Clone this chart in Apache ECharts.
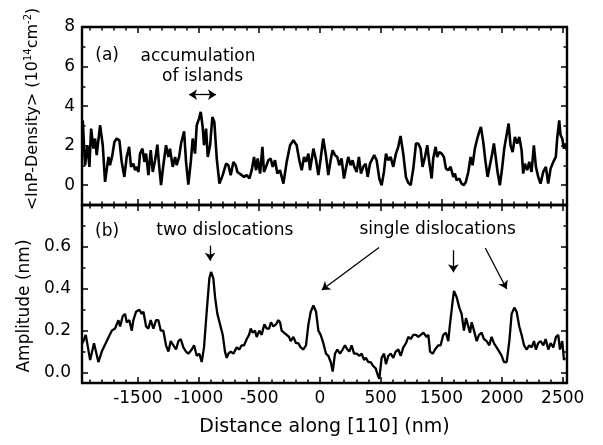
<!DOCTYPE html>
<html><head><meta charset="utf-8">
<script src="https://cdn.jsdelivr.net/npm/echarts@6/dist/echarts.min.js"></script>
<style>html,body{margin:0;padding:0;background:#fff}#c{width:603px;height:445px}</style>
</head><body><div id="c"></div>
<script>
// ---- data (distance in nm, density in 1e14 cm^-2, amplitude in nm) ----
const densityData = [
[-1954,3.28],[-1935,1.01],[-1915,2.02],[-1899,0.93],[-1885,2.86],[-1866,1.85],[-1852,2.36],[-1839,1.52],[-1811,3.03],[-1789,2.02],
[-1770,0.17],[-1742,1.43],[-1729,1.01],[-1710,1.52],[-1693,2.19],[-1674,2.36],[-1652,2.27],[-1633,1.18],[-1611,0.42],[-1592,1.43],
[-1572,1.94],[-1556,0.93],[-1537,1.09],[-1523,0.76],[-1509,0.93],[-1495,0.67],[-1482,1.60],[-1462,1.85],[-1446,1.18],[-1432,1.60],
[-1413,0.51],[-1394,1.77],[-1377,0.67],[-1358,1.26],[-1339,2.05],[-1325,1.01],[-1309,0.00],[-1290,1.01],[-1268,2.02],[-1248,1.43],
[-1235,1.85],[-1213,0.93],[-1193,1.43],[-1180,1.01],[-1160,1.43],[-1144,2.11],[-1119,2.73],[-1103,1.18],[-1084,0.03],[-1064,1.18],
[-1048,2.36],[-1029,1.60],[-1015,3.03],[-996,3.37],[-982,3.71],[-966,2.95],[-955,2.02],[-938,2.86],[-924,1.43],[-905,2.02],
[-886,3.45],[-870,3.20],[-850,1.35],[-828,0.08],[-801,0.51],[-773,1.09],[-754,1.01],[-735,0.51],[-713,1.18],[-694,1.01],
[-680,0.67],[-664,0.59],[-645,0.51],[-625,0.42],[-603,0.51],[-581,0.34],[-562,0.76],[-543,1.43],[-526,0.76],[-513,1.35],
[-493,0.59],[-474,1.94],[-461,0.67],[-444,0.93],[-425,1.26],[-406,1.35],[-389,0.93],[-370,1.26],[-351,0.59],[-329,0.76],
[-301,0.08],[-274,1.18],[-246,2.02],[-219,2.27],[-192,2.02],[-170,1.26],[-150,0.76],[-131,1.43],[-115,1.18],[-95,1.60],
[-82,0.76],[-54,1.85],[-32,1.26],[-13,0.51],[6,1.35],[27,2.36],[49,1.52],[69,0.51],[88,1.26],[104,1.77],
[124,1.52],[143,1.43],[159,1.01],[178,1.35],[198,0.34],[214,0.84],[233,1.43],[253,1.01],[269,1.26],[283,0.93],
[302,0.67],[321,1.43],[338,0.59],[357,0.93],[376,1.09],[393,0.42],[412,1.09],[425,1.18],[447,1.52],[467,1.26],
[489,0.34],[508,0.00],[527,0.67],[544,1.60],[563,1.26],[582,1.43],[604,0.93],[626,1.60],[645,1.94],[664,2.49],
[686,1.60],[708,0.42],[727,0.13],[747,0.00],[769,0.84],[791,2.11],[810,2.11],[829,1.85],[845,0.93],[865,1.43],
[884,2.02],[900,1.18],[920,0.34],[933,1.35],[953,1.94],[966,1.43],[983,1.68],[1002,1.60],[1021,1.43],[1038,0.84],
[1057,0.76],[1076,0.93],[1098,0.42],[1112,0.59],[1125,0.25],[1147,0.34],[1167,0.08],[1186,0.00],[1202,0.17],[1222,0.67],
[1241,1.43],[1257,1.01],[1276,1.85],[1296,2.36],[1312,2.70],[1326,2.95],[1345,2.19],[1364,1.18],[1381,0.42],[1400,1.01],
[1419,1.60],[1433,2.11],[1449,1.35],[1463,0.67],[1482,0.00],[1502,0.93],[1518,1.85],[1537,2.53],[1554,3.12],[1570,2.02],
[1587,1.68],[1606,2.44],[1625,2.11],[1642,2.44],[1661,1.77],[1674,0.59],[1688,1.09],[1707,0.76],[1724,1.18],[1743,0.67],
[1762,2.02],[1779,0.93],[1798,0.42],[1817,0.08],[1839,0.67],[1861,0.93],[1880,0.08],[1900,0.84],[1922,1.18],[1943,1.43],
[1954,2.36],[1971,3.28],[1982,2.53],[1996,2.36],[2009,1.85],[2026,2.11],[2034,1.77]
];
const amplitudeData = [
[-1958,0.14],[-1948,0.15],[-1929,0.18],[-1893,0.06],[-1861,0.14],[-1825,0.05],[-1797,0.10],[-1756,0.15],[-1715,0.20],[-1688,0.21],
[-1660,0.25],[-1646,0.22],[-1624,0.27],[-1605,0.28],[-1592,0.24],[-1570,0.25],[-1550,0.20],[-1537,0.25],[-1515,0.29],[-1487,0.30],
[-1468,0.28],[-1454,0.29],[-1432,0.22],[-1413,0.21],[-1394,0.25],[-1372,0.21],[-1350,0.25],[-1331,0.25],[-1311,0.20],[-1290,0.20],
[-1268,0.13],[-1248,0.10],[-1229,0.15],[-1207,0.13],[-1185,0.11],[-1166,0.15],[-1147,0.16],[-1125,0.12],[-1103,0.10],[-1084,0.09],
[-1056,0.11],[-1037,0.13],[-1015,0.08],[-993,0.09],[-974,0.05],[-955,0.12],[-933,0.29],[-911,0.45],[-897,0.48],[-878,0.45],
[-864,0.36],[-845,0.28],[-823,0.23],[-801,0.18],[-782,0.10],[-768,0.07],[-754,0.09],[-735,0.10],[-713,0.09],[-686,0.12],
[-664,0.11],[-645,0.13],[-625,0.13],[-603,0.16],[-584,0.18],[-570,0.21],[-554,0.19],[-535,0.20],[-521,0.17],[-499,0.20],
[-480,0.18],[-458,0.23],[-439,0.21],[-419,0.21],[-403,0.24],[-384,0.22],[-362,0.23],[-343,0.25],[-329,0.24],[-315,0.20],
[-296,0.19],[-274,0.18],[-255,0.17],[-241,0.15],[-219,0.17],[-197,0.14],[-178,0.14],[-159,0.12],[-137,0.11],[-115,0.13],
[-95,0.23],[-76,0.29],[-54,0.32],[-32,0.29],[-13,0.20],[6,0.18],[28,0.14],[50,0.09],[69,0.08],[89,0.05],
[105,0.005],[124,0.09],[143,0.11],[165,0.09],[187,0.11],[206,0.13],[226,0.11],[242,0.10],[261,0.13],[281,0.09],
[303,0.09],[325,0.08],[344,0.09],[363,0.06],[379,0.07],[399,0.05],[418,0.05],[440,0.03],[459,0.02],[475,-0.01],
[489,-0.03],[508,0.07],[528,0.09],[544,0.04],[563,0.08],[583,0.09],[604,0.07],[624,0.10],[646,0.11],[665,0.08],
[687,0.12],[709,0.14],[728,0.17],[747,0.16],[769,0.18],[791,0.18],[810,0.17],[830,0.18],[852,0.19],[879,0.17],
[893,0.18],[907,0.10],[929,0.09],[948,0.11],[975,0.13],[994,0.13],[1016,0.18],[1038,0.19],[1057,0.15],[1071,0.23],
[1093,0.34],[1104,0.39],[1126,0.36],[1148,0.31],[1167,0.28],[1186,0.20],[1203,0.26],[1222,0.22],[1236,0.19],[1250,0.24],
[1269,0.20],[1291,0.15],[1310,0.18],[1332,0.19],[1351,0.16],[1373,0.15],[1395,0.13],[1414,0.17],[1433,0.14],[1455,0.12],
[1477,0.10],[1497,0.08],[1516,0.05],[1538,0.05],[1560,0.15],[1579,0.28],[1601,0.31],[1620,0.29],[1642,0.22],[1661,0.18],
[1681,0.13],[1702,0.11],[1725,0.13],[1744,0.12],[1763,0.15],[1779,0.11],[1798,0.14],[1818,0.15],[1840,0.13],[1859,0.16],
[1881,0.11],[1900,0.14],[1922,0.12],[1944,0.17],[1963,0.18],[1977,0.11],[1996,0.15],[2010,0.06],[2018,0.07]
];

// ---- axes / ticks ----
const X_MIN = -1960, X_MAX = 2035;
const xTickValues = [-1500, -1000, -500, 0, 500, 1000, 1500, 2000];
const xTickLabels = ["-1500", "-1000", "-500", "0", "500", "1500", "2000", "2500"];
const densityRange = [-1, 8];
const densityTicks = [0, 2, 4, 6, 8];
const densityTickLabels = ["0", "2", "4", "6", "8"];
const densityMinorTicks = [-1, 1, 3, 5, 7];
const ampRange = [-0.05, 0.8];
const ampTicks = [0, 0.2, 0.4, 0.6];
const ampTickLabels = ["0.0", "0.2", "0.4", "0.6"];
const ampMinorTicks = [0.1, 0.3, 0.5, 0.7];

// ---- annotations (data coordinates) ----
const textsA = [
  {text: "(a)", x: -1753, y: 6.57},
  {text: "accumulation", x: -1004, y: 6.52},
  {text: "of islands", x: -967, y: 5.51}
];
const arrowsA = [{from: [-1078, 4.58], to: [-856, 4.58]}];
const textsB = [
  {text: "(b)", x: -1753, y: 0.674},
  {text: "two dislocations", x: -784, y: 0.679},
  {text: "single dislocations", x: 969, y: 0.684}
];
const arrowsB = [
  {from: [-905, 0.606], to: [-905, 0.534]},
  {from: [487, 0.597], to: [15, 0.394]},
  {from: [1099, 0.584], to: [1099, 0.479]},
  {from: [1362, 0.595], to: [1538, 0.399]}
];

const FONT = "DejaVu Sans";
const xMinor = [];
for (let v = -1900; v <= 2000; v += 100) if (v % 500 !== 0) xMinor.push(v);

function pick(vals, labels) {
  return function (v) {
    const i = vals.findIndex(t => Math.abs(t - v) < 1e-9);
    return i >= 0 ? labels[i] : '';
  };
}
function xAxisDef(grid, pos, ticks, len, withLabels, lineShow) {
  const a = {
    type: 'value', gridIndex: grid, position: pos, min: X_MIN, max: X_MAX,
    splitLine: {show: false},
    axisLine: {show: lineShow, onZero: false, lineStyle: {color: '#000', width: 2.4}},
    axisTick: {show: true, inside: true, length: len, customValues: ticks, lineStyle: {color: '#000', width: 1.5}},
    axisLabel: {show: false}
  };
  if (withLabels) {
    a.axisLabel = {show: true, customValues: xTickValues, formatter: pick(xTickValues, xTickLabels),
      color: '#000', fontSize: 17, fontFamily: FONT, margin: 7};
    a.name = 'Distance along [110] (nm)';
    a.nameLocation = 'middle';
    a.nameGap = 35;
    a.nameTextStyle = {color: '#000', fontSize: 19, fontFamily: FONT};
  }
  return a;
}
function yAxisDef(grid, pos, range, ticks, len, labelVals, labelTexts, lineShow, margin) {
  const a = {
    type: 'value', gridIndex: grid, position: pos, min: range[0], max: range[1],
    splitLine: {show: false},
    axisLine: {show: lineShow, onZero: false, lineStyle: {color: '#000', width: 2.4}},
    axisTick: {show: true, inside: true, length: len, customValues: ticks, lineStyle: {color: '#000', width: 1.5}},
    axisLabel: {show: false}
  };
  if (labelVals) {
    a.axisLabel = {show: true, customValues: labelVals, formatter: pick(labelVals, labelTexts),
      color: '#000', fontSize: 17, fontFamily: FONT, margin: margin};
  }
  return a;
}
function textMarks(items) {
  return {
    symbol: 'circle', symbolSize: 0, silent: true, animation: false,
    itemStyle: {color: 'rgba(0,0,0,0)'},
    label: {show: true, position: 'inside', color: '#000', fontSize: 17, fontFamily: FONT, formatter: p => p.name},
    data: items.map(t => ({name: t.text, coord: [t.x, t.y]}))
  };
}
function arrowMarks(items, symbols) {
  return {
    silent: true, animation: false, symbol: symbols, symbolSize: 8,
    label: {show: false},
    lineStyle: {color: '#000', width: 1.3, type: 'solid'},
    emphasis: {disabled: true},
    data: items.map(a => [{coord: a.from}, {coord: a.to}])
  };
}

const chart = echarts.init(document.getElementById('c'), null, {renderer: 'canvas'});
chart.setOption({
  animation: false,
  backgroundColor: '#fff',
  grid: [
    {left: 82, top: 27, width: 485, height: 178},
    {left: 82, top: 205, width: 485, height: 178}
  ],
  xAxis: [
    xAxisDef(0, 'bottom', xTickValues, 6, false, true),
    xAxisDef(0, 'bottom', xMinor, 3.5, false, false),
    xAxisDef(0, 'top', xTickValues, 6, false, true),
    xAxisDef(0, 'top', xMinor, 3.5, false, false),
    xAxisDef(1, 'bottom', xTickValues, 6, true, true),
    xAxisDef(1, 'bottom', xMinor, 3.5, false, false),
    xAxisDef(1, 'top', xTickValues, 6, false, true),
    xAxisDef(1, 'top', xMinor, 3.5, false, false)
  ],
  yAxis: [
    yAxisDef(0, 'left', densityRange, densityTicks, 6, densityTicks, densityTickLabels, true, 7),
    yAxisDef(0, 'left', densityRange, densityMinorTicks, 3.5, null, null, false),
    yAxisDef(0, 'right', densityRange, densityTicks, 6, null, null, true),
    yAxisDef(0, 'right', densityRange, densityMinorTicks, 3.5, null, null, false),
    yAxisDef(1, 'left', ampRange, ampTicks, 6, ampTicks, ampTickLabels, true, 11),
    yAxisDef(1, 'left', ampRange, ampMinorTicks, 3.5, null, null, false),
    yAxisDef(1, 'right', ampRange, ampTicks, 6, null, null, true),
    yAxisDef(1, 'right', ampRange, ampMinorTicks, 3.5, null, null, false)
  ],
  graphic: [
    {type: 'text', x: 33, y: 109, rotation: Math.PI / 2,
     style: {text: '<InP-Density> (10{sup|14}cm{sup|-2})', align: 'center', verticalAlign: 'middle',
       fill: '#000', fontSize: 16, fontFamily: FONT,
       rich: {sup: {fontSize: 10, fontFamily: FONT, fill: '#000', verticalAlign: 'top', padding: [0, 0, 9, 0]}}}},
    {type: 'text', x: 25, y: 306, rotation: Math.PI / 2,
     style: {text: 'Amplitude (nm)', align: 'center', verticalAlign: 'middle', fill: '#000', fontSize: 17, fontFamily: FONT}}
  ],
  series: [
    {type: 'line', xAxisIndex: 0, yAxisIndex: 0, data: densityData, showSymbol: false, symbol: 'none',
     lineStyle: {color: '#000', width: 2.6}, clip: true,
     markPoint: textMarks(textsA), markLine: arrowMarks(arrowsA, ['arrow', 'arrow'])},
    {type: 'line', xAxisIndex: 4, yAxisIndex: 4, data: amplitudeData, showSymbol: false, symbol: 'none',
     lineStyle: {color: '#000', width: 2.3}, clip: true,
     markPoint: textMarks(textsB), markLine: arrowMarks(arrowsB, ['none', 'arrow'])}
  ]
});
</script></body></html>
